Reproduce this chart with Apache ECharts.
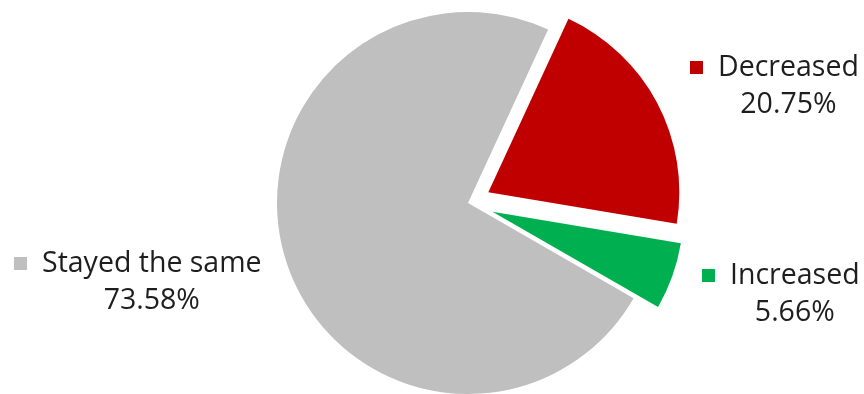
<!DOCTYPE html>
<html lang="en">
<head>
<meta charset="UTF-8">
<title>Change</title>
<script src="https://cdn.jsdelivr.net/npm/echarts@6/dist/echarts.min.js"></script>
<style>
html, body { margin: 0; padding: 0; background: #fff; }
#chart { width: 864px; height: 394px; }
</style>
</head>
<body>
<div id="chart"></div>
<script>
// data
const categories = ['Decreased', 'Increased', 'Stayed the same'];
const shares = [20.75, 5.66, 73.58];
const colors = ['#C00000', '#00B050', '#BFBFBF'];
const pulls = [23, 26, 0];   // explode distance per slice

// label block left edge / vertical middle
const labelPos = [[690, 86], [702, 294], [14, 282]];

const CX = 468, CY = 203, R = 191, START = 65.2;
const FONT = 28.5;
const measure = document.createElement('canvas').getContext('2d');
measure.font = FONT + 'px "Open Sans"';

const total = shares.reduce(function (a, b) { return a + b; }, 0);
const chart = echarts.init(document.getElementById('chart'));

// one pie per slice, so each pulled-out slice gets its own centre
let acc = 0;
const series = categories.map(function (name, i) {
  const mid = (90 - START) + (acc + shares[i] / 2) / total * 360; // clockwise from 12 o'clock
  acc += shares[i];
  const rad = mid * Math.PI / 180;
  const d = pulls[i];
  const pctText = shares[i].toFixed(2) + '%';
  const shift = 28 + (measure.measureText(name).width - measure.measureText(pctText).width) / 2;
  return {
    type: 'pie',
    center: [CX + d * Math.sin(rad), CY - d * Math.cos(rad)],
    radius: R,
    startAngle: START,
    clockwise: true,
    silent: true,
    z: i === 2 ? 1 : 2,
    labelLine: { show: false },
    data: categories.map(function (n, j) {
      const own = j === i;
      return {
        name: n,
        value: shares[j],
        itemStyle: { color: own ? colors[j] : 'rgba(0,0,0,0)' },
        label: own ? {
          show: true,
          position: 'inside',
          overflow: 'none',
          formatter: '{sq|}{gap|}{name|' + n + '}\n{pct|' + pctText + '}',
          rich: {
            sq: { width: 13, height: 13, backgroundColor: colors[j], verticalAlign: 'middle' },
            gap: { width: 15 },
            name: { fontFamily: 'Open Sans', fontSize: FONT, color: '#1e1e1e', lineHeight: 37 },
            pct: { fontFamily: 'Open Sans', fontSize: FONT, color: '#1e1e1e', lineHeight: 37, padding: [0, 0, 0, shift] }
          }
        } : { show: false }
      };
    }),
    labelLayout: function (params) {
      if (params.dataIndex !== i) return {};
      const pos = labelPos[i];
      return { x: pos[0], y: pos[1], align: 'left', verticalAlign: 'middle', hideOverlap: false, moveOverlap: false };
    }
  };
});

chart.setOption({ animation: false, series: series });
</script>
</body>
</html>
